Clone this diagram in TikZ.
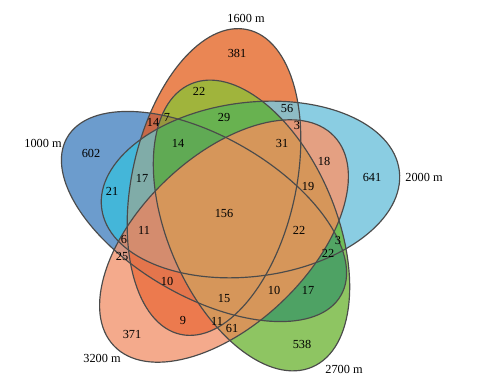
\documentclass[tikz,border=0pt]{standalone}
\usepackage{fontspec}
\setmainfont{Liberation Serif}
\usepackage{xcolor}
\usetikzlibrary{backgrounds}
\definecolor{rim}{RGB}{75,75,75}
\tikzstyle{count}=[inner sep=0pt, font=\fontsize{10.5}{12}\selectfont]
\tikzstyle{setname}=[inner sep=0pt, font=\fontsize{10.5}{12}\selectfont]
\tikzstyle{outline}=[draw=rim, line width=1pt]
% one ellipse per altitude, #1 = what is done with it
\newcommand{\ellO}[1]{\path[#1, rotate around={77.6:(cO)}] (cO) ellipse [x radius=156, y radius=82];}
\newcommand{\ellS}[1]{\path[#1, rotate around={7.2:(cS)}] (cS) ellipse [x radius=150, y radius=87];}
\newcommand{\ellG}[1]{\path[#1, rotate around={-66.8:(cG)}] (cG) ellipse [x radius=154, y radius=84];}
\newcommand{\ellL}[1]{\path[#1, rotate around={43.6:(cL)}] (cL) ellipse [x radius=152, y radius=84];}
\newcommand{\ellB}[1]{\path[#1, rotate around={150:(cB)}] (cB) ellipse [x radius=158, y radius=80];}
% paint the common part of the listed ellipses
\newcommand{\vregion}[2]{
 \begin{scope}
  \foreach \s in {#1} {\csname ell\s\endcsname{clip}}
  \definecolor{tint}{RGB}{#2}
  \fill[tint] (0,0) rectangle (492,386);
 \end{scope}
}

\begin{document}
\begin{tikzpicture}[x=0.3mm, y=-0.3mm]
 \useasboundingbox (0,0) rectangle (492,386);
 \coordinate (cO) at (214,182);
 \coordinate (cS) at (250.5,189.5);
 \coordinate (cG) at (251.5,225.5);
 \coordinate (cL) at (224,241);
 \coordinate (cB) at (204,216.5);
%
 \vregion{B}{108,156,205}
 \vregion{O}{234,134,84}
 \vregion{S}{138,205,226}
 \vregion{G}{142,197,98}
 \vregion{L}{244,170,140}
 \vregion{B,O}{200,104,72}
 \vregion{B,S}{68,182,217}
 \vregion{B,G}{78,162,100}
 \vregion{B,L}{212,150,130}
 \vregion{O,S}{142,188,196}
 \vregion{O,G}{160,180,60}
 \vregion{O,L}{236,122,78}
 \vregion{S,G}{112,190,88}
 \vregion{S,L}{228,160,130}
 \vregion{B,O,S}{128,172,168}
 \vregion{B,O,G}{150,150,62}
 \vregion{B,O,L}{228,117,76}
 \vregion{B,S,G}{82,165,100}
 \vregion{B,S,L}{204,138,114}
 \vregion{O,S,G}{104,178,80}
 \vregion{O,S,L}{225,150,118}
 \vregion{B,O,S,G}{96,170,84}
 \vregion{B,O,S,L}{212,140,110}
 \vregion{G,L}{214,150,90}
%
 \ellO{outline}
 \ellS{outline}
 \ellG{outline}
 \ellL{outline}
 \ellB{outline}
%
 \node[setname] (tO) at (246,18) {1600 m};
 \node[setname] (tB) at (43,143) {1000 m};
 \node[setname] (tS) at (424,177) {2000 m};
 \node[setname] (tG) at (344,369) {2700 m};
 \node[setname] (tL) at (102,358) {3200 m};
%
 \node[count] (nB) at (91,153) {602};
 \node[count] (nO) at (237,53) {381};
 \node[count] (nS) at (372,177) {641};
 \node[count] (nG) at (302,344) {538};
 \node[count] (nL) at (132,334) {371};
 \node[count] (nBO) at (153,122) {14};
 \node[count] (nBOG) at (167,117) {7};
 \node[count] (nOG) at (199,91) {22};
 \node[count] (nOSG) at (224,117) {29};
 \node[count] (nOS) at (287,108) {56};
 \node[count] (nOSL) at (297,125) {3};
 \node[count] (nOSGL) at (282,143) {31};
 \node[count] (nSL) at (324,161) {18};
 \node[count] (nSGL) at (308,186) {19};
 \node[count] (nBOSG) at (178,143) {14};
 \node[count] (nBOS) at (142,178) {17};
 \node[count] (nBS) at (112,191) {21};
 \node[count] (nBOSGL) at (224,213) {156};
 \node[count] (nBOSL) at (144,230) {11};
 \node[count] (nBSL) at (124,239) {6};
 \node[count] (nBL) at (122,256) {25};
 \node[count] (nBOL) at (167,281) {10};
 \node[count] (nOL) at (183,320) {9};
 \node[count] (nBOGL) at (224,298) {15};
 \node[count] (nOGL) at (217,321) {11};
 \node[count] (nGL) at (232,328) {61};
 \node[count] (nBSGL) at (299,230) {22};
 \node[count] (nSG) at (338,240) {3};
 \node[count] (nBSG) at (328,253) {22};
 \node[count] (nBGL) at (274,290) {10};
 \node[count] (nBG) at (308,290) {17};
\end{tikzpicture}
\end{document}
